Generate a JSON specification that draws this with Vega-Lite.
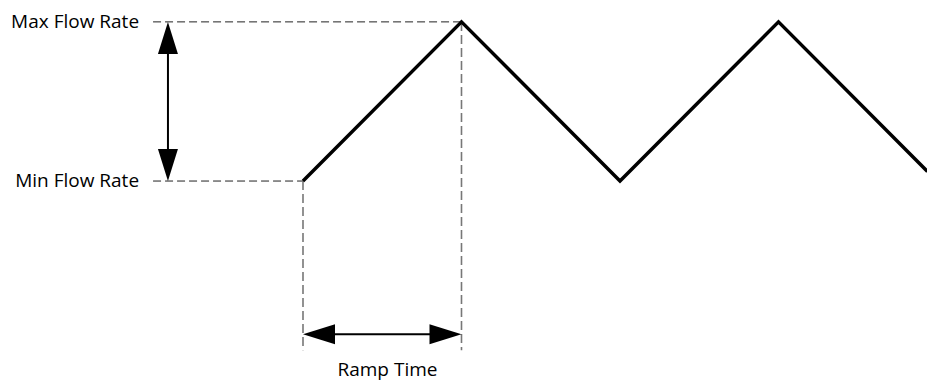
{
  "$schema": "https://vega.github.io/schema/vega-lite/v6.json",
  "width": 927,
  "height": 381,
  "autosize": {"type": "fit", "contains": "padding"},
  "padding": 0,
  "background": "white",
  "config": {"view": {"stroke": null}},
  "datasets": {
    "wave": [
      {"t": 0, "f": 0},
      {"t": 1, "f": 1},
      {"t": 2, "f": 0},
      {"t": 3, "f": 1},
      {"t": 3.94, "f": 0.06}
    ],
    "guides": [
      {"t": -0.946, "f": 1, "t2": 1, "f2": 1, "orient": "h"},
      {"t": -0.946, "f": 0, "t2": 0, "f2": 0, "orient": "h"},
      {"t": 0, "f": 0, "t2": 0, "f2": -1.0625, "orient": "v"},
      {"t": 1, "f": 1, "t2": 1, "f2": -1.0625, "orient": "v"}
    ],
    "shafts": [
      {"t": -0.852, "f": 0.05, "t2": -0.852, "f2": 0.95},
      {"t": 0.05, "f": -0.9625, "t2": 0.95, "f2": -0.9625}
    ],
    "heads": [
      {"t": -0.852, "f": 1, "dir": "up"},
      {"t": -0.852, "f": 0, "dir": "down"},
      {"t": 0, "f": -0.9625, "dir": "left"},
      {"t": 1, "f": -0.9625, "dir": "right"}
    ],
    "levels": [
      {"t": -0.946, "f": 1, "label": "Max Flow Rate"},
      {"t": -0.946, "f": 0, "label": "Min Flow Rate"}
    ],
    "xlabel": [
      {"t": 0.533, "f": -1.225, "label": "Ramp Time"}
    ]
  },
  "encoding": {
    "x": {"field": "t", "type": "quantitative", "axis": null, "scale": {"domain": [-1.9117, 3.937], "nice": false, "zero": false}},
    "y": {"field": "f", "type": "quantitative", "axis": null, "scale": {"domain": [-1.24375, 1.1375], "nice": false, "zero": false}}
  },
  "layer": [
    {
      "data": {"name": "guides"},
      "transform": [{"filter": "datum.orient === 'h'"}],
      "mark": {"type": "rule", "color": "#222", "strokeWidth": 1, "strokeDash": [8, 4]},
      "encoding": {
        "x2": {"field": "t2"},
        "y2": {"field": "f2"}
      }
    },
    {
      "data": {"name": "guides"},
      "transform": [{"filter": "datum.orient === 'v'"}],
      "mark": {"type": "rule", "color": "#777", "strokeWidth": 1.6, "strokeDash": [9, 4]},
      "encoding": {
        "x2": {"field": "t2"},
        "y2": {"field": "f2"}
      }
    },
    {
      "data": {"name": "wave"},
      "mark": {"type": "line", "color": "black", "strokeWidth": 3.5, "clip": true},
      "encoding": {}
    },
    {
      "data": {"name": "shafts"},
      "mark": {"type": "rule", "color": "black", "strokeWidth": 2},
      "encoding": {
        "x2": {"field": "t2"},
        "y2": {"field": "f2"}
      }
    },
    {
      "data": {"name": "heads"},
      "transform": [{"filter": "datum.dir === 'up'"}],
      "mark": {"type": "point", "shape": "M0,0L-0.625,2L0.625,2Z", "filled": true, "color": "black", "opacity": 1, "size": 1024, "strokeWidth": 0}
    },
    {
      "data": {"name": "heads"},
      "transform": [{"filter": "datum.dir === 'down'"}],
      "mark": {"type": "point", "shape": "M0,0L-0.625,-2L0.625,-2Z", "filled": true, "color": "black", "opacity": 1, "size": 1024, "strokeWidth": 0}
    },
    {
      "data": {"name": "heads"},
      "transform": [{"filter": "datum.dir === 'left'"}],
      "mark": {"type": "point", "shape": "M0,0L2,-0.625L2,0.625Z", "filled": true, "color": "black", "opacity": 1, "size": 1024, "strokeWidth": 0}
    },
    {
      "data": {"name": "heads"},
      "transform": [{"filter": "datum.dir === 'right'"}],
      "mark": {"type": "point", "shape": "M0,0L-2,-0.625L-2,0.625Z", "filled": true, "color": "black", "opacity": 1, "size": 1024, "strokeWidth": 0}
    },
    {
      "data": {"name": "levels"},
      "mark": {"type": "text", "align": "right", "baseline": "middle", "dx": -14, "font": "Open Sans", "fontSize": 19, "color": "black"},
      "encoding": {"text": {"field": "label"}}
    },
    {
      "data": {"name": "xlabel"},
      "mark": {"type": "text", "align": "center", "baseline": "alphabetic", "font": "Open Sans", "fontSize": 19, "color": "black"},
      "encoding": {"text": {"field": "label"}}
    }
  ]
}
